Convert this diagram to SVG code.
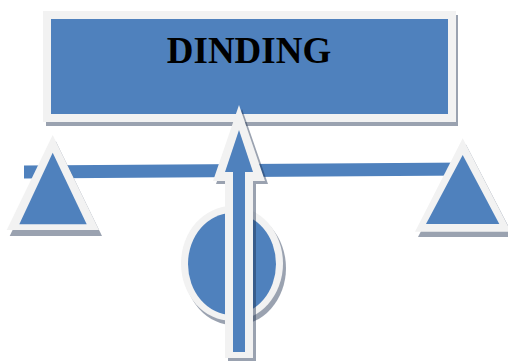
<svg xmlns="http://www.w3.org/2000/svg" width="508" height="361" viewBox="0 0 508 361">
<style>
.sh{fill:#203050;opacity:.45}
.bd{fill:#f2f2f2}
.bl{fill:#4f81bd}
.t{font-family:"Liberation Serif","Times New Roman",serif;font-weight:bold;font-size:37px;fill:#000}
</style>
<rect width="508" height="361" fill="#fff"/>
<g id="beam">
<polygon class="bl" points="24,165.5 470,162.5 470,175.5 24,178.5"/>
</g>
<g id="left-weight">
<polygon class="sh" points="55.7,141 9.7,236 102,236"/>
<polygon class="bd" points="52.7,135 6.7,230 99,230"/>
<polygon class="bl" points="52.7,152.7 19.3,224.3 86.7,224.3"/>
</g>
<g id="right-weight">
<polygon class="sh" points="465.7,144 418,237 514,237"/>
<polygon class="bd" points="462.7,138.3 415,231.7 511,231.7"/>
<polygon class="bl" points="462.7,155 426,224 499.3,224"/>
</g>
<g id="pivot">
<ellipse class="sh" cx="235" cy="268" rx="51" ry="57.5"/>
<ellipse class="bd" cx="232" cy="263.5" rx="51" ry="57.5"/>
<ellipse class="bl" cx="232" cy="264" rx="44" ry="51"/>
</g>
<g id="title">
<rect class="sh" x="46" y="15" width="412" height="111"/>
<rect class="bd" x="43" y="11" width="413" height="111"/>
<rect class="bl" x="51" y="19" width="397" height="95"/>
<text class="t" x="249" y="63" text-anchor="middle">DINDING</text>
</g>
<g id="arrow">
<polygon class="sh" points="242,109 216,184 228,184 228,361 256,361 256,184 268,184"/>
<polygon class="bd" points="239,105 213,181 225,181 225,358 253,358 253,181 265,181"/>
<polygon class="bl" points="239,130 225,172 233,172 233,352 245,352 245,172 253,172"/>
</g>
</svg>
